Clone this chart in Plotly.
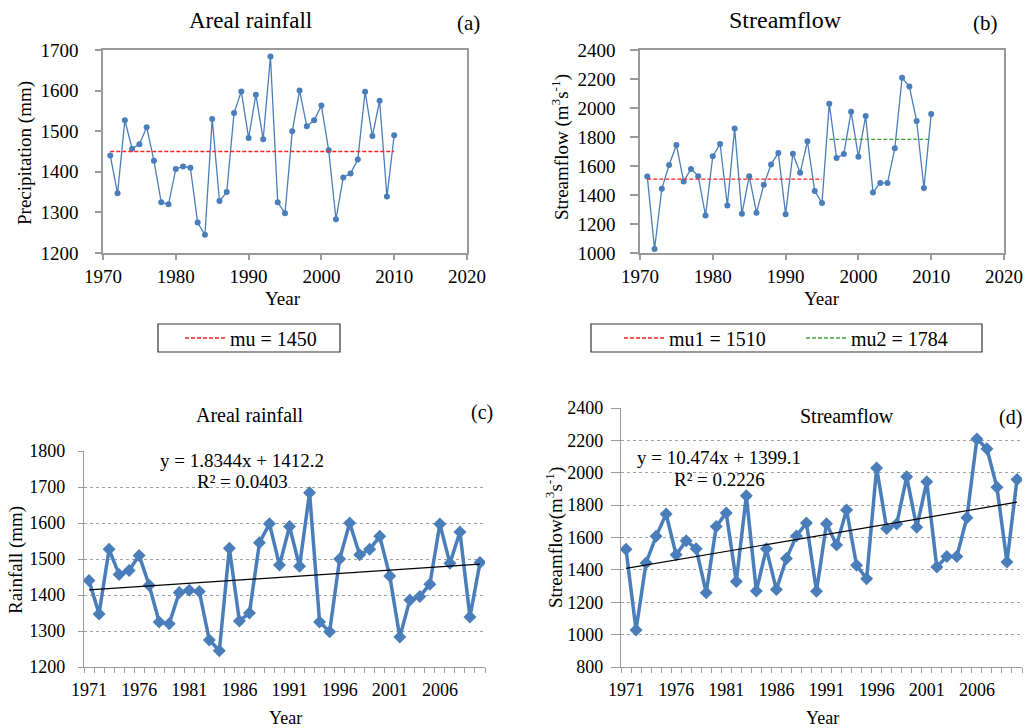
import plotly.graph_objects as go

# ---------------- data ----------------
years = list(range(1971, 2011))
rainfall = [1440, 1347, 1527, 1457, 1468, 1510, 1427, 1325, 1320, 1407,
            1413, 1410, 1275, 1245, 1530, 1328, 1350, 1545, 1598, 1483,
            1590, 1480, 1684, 1325, 1298, 1500, 1600, 1512, 1527, 1563,
            1453, 1283, 1386, 1396, 1430, 1597, 1488, 1575, 1339, 1490]
streamflow = [1527, 1028, 1443, 1607, 1745, 1493, 1580, 1530, 1258, 1668,
              1752, 1328, 1858, 1270, 1530, 1278, 1470, 1610, 1690, 1268,
              1685, 1553, 1770, 1428, 1345, 2030, 1655, 1683, 1975, 1663,
              1945, 1418, 1483, 1483, 1722, 2208, 2148, 1910, 1448, 1958]
mu_rain = 1450
mu1_flow = 1510
mu2_flow = 1784
change_year = 1996
trend_rain = (1.8344, 1412.2)   # slope, intercept (x = 1..40)
trend_flow = (10.474, 1399.1)
c_ticks = [1971, 1976, 1981, 1986, 1991, 1996, 2001, 2006]

# ---------------- helpers ----------------
W, H = 1025, 728
def px(x):
    return x / W
def py(y):
    return 1 - y / H

FONT = "Liberation Serif"
BLUE = "#4A7EBB"
GRAY = "#9A9A9A"
RED = "#FF2020"
GREEN = "#3FA33F"

fig = go.Figure()

# (a) rainfall
fig.add_trace(go.Scatter(x=years, y=rainfall, mode="lines+markers",
                         line=dict(color=BLUE, width=1.3),
                         marker=dict(size=6, color=BLUE),
                         xaxis="x", yaxis="y", showlegend=False))
fig.add_trace(go.Scatter(x=[years[0], years[-1]], y=[mu_rain, mu_rain], mode="lines",
                         line=dict(color=RED, width=1.3, dash="4px,2px"),
                         name=f"mu = {mu_rain}", legend="legend",
                         xaxis="x", yaxis="y"))

# (b) streamflow
fig.add_trace(go.Scatter(x=years, y=streamflow, mode="lines+markers",
                         line=dict(color=BLUE, width=1.3),
                         marker=dict(size=6, color=BLUE),
                         xaxis="x2", yaxis="y2", showlegend=False))
fig.add_trace(go.Scatter(x=[years[0], change_year - 1], y=[mu1_flow, mu1_flow], mode="lines",
                         line=dict(color=RED, width=1.3, dash="4px,2px"),
                         name=f"mu1 = {mu1_flow}", legend="legend2",
                         xaxis="x2", yaxis="y2"))
fig.add_trace(go.Scatter(x=[change_year, years[-1]], y=[mu2_flow, mu2_flow], mode="lines",
                         line=dict(color=GREEN, width=1.3, dash="4px,2px"),
                         name=f"mu2 = {mu2_flow}", legend="legend2",
                         xaxis="x2", yaxis="y2"))

# (c) rainfall with trend
fig.add_trace(go.Scatter(x=years, y=rainfall, mode="lines+markers",
                         line=dict(color=BLUE, width=3.5),
                         marker=dict(size=10, color=BLUE, symbol="diamond"),
                         xaxis="x3", yaxis="y3", showlegend=False))
fig.add_trace(go.Scatter(x=years, y=[trend_rain[0] * (i + 1) + trend_rain[1] for i in range(len(years))],
                         mode="lines", line=dict(color="black", width=1.2),
                         xaxis="x3", yaxis="y3", showlegend=False))

# (d) streamflow with trend
fig.add_trace(go.Scatter(x=years, y=streamflow, mode="lines+markers",
                         line=dict(color=BLUE, width=3.5),
                         marker=dict(size=10, color=BLUE, symbol="diamond"),
                         xaxis="x4", yaxis="y4", showlegend=False))
fig.add_trace(go.Scatter(x=years, y=[trend_flow[0] * (i + 1) + trend_flow[1] for i in range(len(years))],
                         mode="lines", line=dict(color="black", width=1.2),
                         xaxis="x4", yaxis="y4", showlegend=False))

tickfont = dict(family=FONT, size=19, color="black")
tickfont2 = dict(family=FONT, size=18, color="black")

def frame_axis(**kw):
    d = dict(showline=True, linecolor=GRAY, linewidth=1.5, mirror=True,
             ticks="outside", ticklen=5, tickcolor=GRAY, tickwidth=1.5,
             showgrid=False, zeroline=False, tickfont=tickfont, automargin=False)
    d.update(kw)
    return d

def cat_x(**kw):
    d = dict(showline=True, linecolor=GRAY, linewidth=1.3,
             tickmode="array", tickvals=c_ticks, ticktext=[str(t) for t in c_ticks],
             ticks="outside", ticklen=6, tickcolor="rgba(0,0,0,0)",
             minor=dict(ticks="outside", ticklen=5, tickcolor=GRAY, tickmode="linear",
                        tick0=1970.5, dtick=1, showgrid=False),
             range=[1970.5, 2010.5], showgrid=False, zeroline=False, tickfont=tickfont2,
             automargin=False)
    d.update(kw)
    return d

def grid_y(**kw):
    d = dict(showline=True, linecolor=GRAY, linewidth=1.3,
             ticks="outside", ticklen=5, tickcolor=GRAY,
             showgrid=True, gridcolor="#A0A0A0", griddash="dot", gridwidth=1,
             zeroline=False, tickfont=tickfont2, automargin=False)
    d.update(kw)
    return d

fig.update_layout(
    width=W, height=H, margin=dict(l=0, r=0, t=0, b=0, pad=0, autoexpand=False),
    paper_bgcolor="white", plot_bgcolor="white",
    font=dict(family=FONT, color="black"),
    xaxis=frame_axis(domain=[px(103), px(467)], anchor="y", range=[1970, 2020], tick0=1970, dtick=10),
    yaxis=frame_axis(domain=[py(253), py(50)], anchor="x", range=[1200, 1700], dtick=100, ticklen=6,
                     ticklabelstandoff=13),
    xaxis2=frame_axis(domain=[px(640), px(1004)], anchor="y2", range=[1970, 2020], tick0=1970, dtick=10),
    yaxis2=frame_axis(domain=[py(253), py(50)], anchor="x2", range=[1000, 2400], dtick=200, ticklen=8,
                      ticklabelstandoff=11),
    xaxis3=cat_x(domain=[px(84), px(485)], anchor="y3"),
    yaxis3=grid_y(domain=[py(667), py(451)], anchor="x3", range=[1200, 1800], dtick=100,
                  ticklabelstandoff=9),
    xaxis4=cat_x(domain=[px(621), px(1022)], anchor="y4"),
    yaxis4=grid_y(domain=[py(667), py(408)], anchor="x4", range=[800, 2400], dtick=200,
                  ticklen=9, ticklabelstandoff=4),
    legend=dict(x=px(180), y=py(338), xanchor="left", yanchor="middle", orientation="h",
                bgcolor="rgba(0,0,0,0)", borderwidth=0, itemwidth=40,
                font=dict(family=FONT, size=20, color="black")),
    legend2=dict(x=px(619), y=py(338), xanchor="left", yanchor="middle", orientation="h",
                 bgcolor="rgba(0,0,0,0)", borderwidth=0, itemwidth=40,
                 entrywidth=127,
                 font=dict(family=FONT, size=20, color="black")),
    showlegend=True,
)

shapes = [
    dict(type="rect", xref="paper", yref="paper", x0=px(158), x1=px(340), y0=py(352), y1=py(324),
         line=dict(color="#333333", width=1.2), fillcolor="rgba(0,0,0,0)"),
    dict(type="rect", xref="paper", yref="paper", x0=px(591), x1=px(982), y0=py(352), y1=py(324),
         line=dict(color="#333333", width=1.2), fillcolor="rgba(0,0,0,0)"),
]
fig.update_layout(shapes=shapes)

def ann(text, x, y, size, angle=0, bg=None, xanchor="center"):
    a = dict(text=text, x=px(x), y=py(y), xref="paper", yref="paper", showarrow=False,
             xanchor=xanchor, yanchor="middle", textangle=angle,
             font=dict(family=FONT, size=size, color="black"))
    if bg:
        a["bgcolor"] = bg
    return a

annotations = [
    # (a)
    ann("Areal rainfall", 250, 20, 23),
    ann("(a)", 468, 23, 21),
    ann("Precipitation (mm)", 25, 153, 19, angle=-90),
    ann("Year", 283, 298, 19),
    # (b)
    ann("Streamflow", 785, 20, 24),
    ann("(b)", 985, 23, 21),
    ann("Streamflow (m<sup>3</sup>s<sup>-1</sup>)", 561, 147, 19, angle=-90),
    ann("Year", 822, 298, 19),
    # (c)
    ann("Areal rainfall", 250, 415, 20),
    ann("(c)", 482, 412, 20),
    ann("Rainfall (mm)", 16, 560, 19, angle=-90),
    ann("Year", 285, 718, 18),
    ann(f"y = {trend_rain[0]}x + {trend_rain[1]}", 242, 460, 19),
    ann("R² = 0.0403", 242, 481, 19),
    # (d)
    ann("Streamflow", 847, 416, 20),
    ann("(d)", 1010, 418, 20, bg="white"),
    ann("Streamflow(m<sup>3</sup>s<sup>-1</sup>)", 554, 538, 19, angle=-90),
    ann("Year", 822, 718, 18),
    ann(f"y = {trend_flow[0]}x + {trend_flow[1]}", 719, 457, 19),
    ann("R² = 0.2226", 719, 479, 19),
]
fig.update_layout(annotations=annotations)

fig.write_html("out.html", config={"displayModeBar": False},
               post_script="document.body.style.margin='0px';document.body.style.overflow='hidden';")
